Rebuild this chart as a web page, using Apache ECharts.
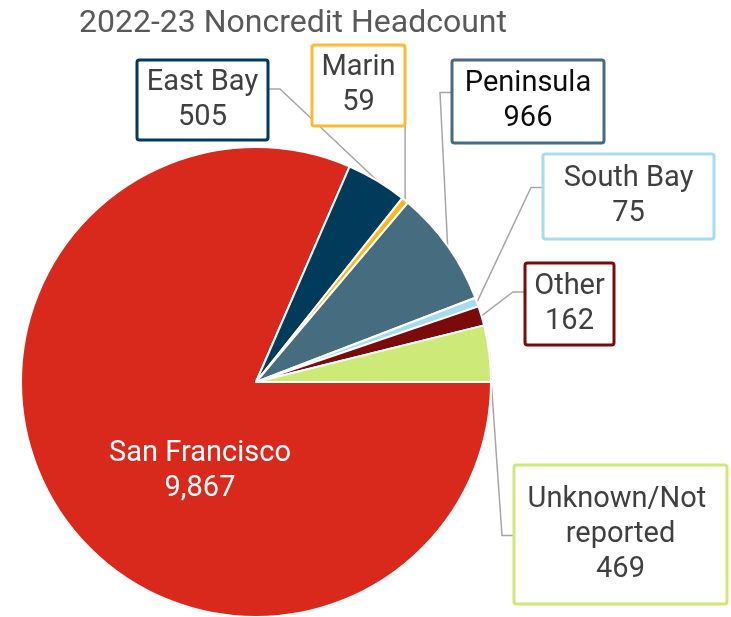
<!DOCTYPE html>
<html>
<head>
<meta charset="utf-8">
<script src="https://cdn.jsdelivr.net/npm/echarts@6/dist/echarts.min.js"></script>
<style>
  html, body { margin: 0; padding: 0; background: #fff; }
  #chart { width: 731px; height: 617px; }
</style>
</head>
<body>
<div id="chart"></div>
<script>
const chartTitle = '2022-23 Noncredit Headcount';
const regions = ['San Francisco', 'East Bay', 'Marin', 'Peninsula', 'South Bay', 'Other', 'Unknown/Not reported'];
const headcounts = [9867, 505, 59, 966, 75, 162, 469];
const sliceColors = ['#d9291c', '#003b5c', '#ffb71b', '#466c7f', '#a7dcee', '#7b0a0a', '#cdea78'];
const boxColors = [null, '#003b5c', '#fbb934', '#466c7f', '#a7dcee', '#7b0a0a', '#cdea78'];
const textColors = ['#ffffff', '#404040', '#404040', '#0d0d0d', '#404040', '#404040', '#404040'];

// Callout boxes: left/top/outer size, text line count, and where the leader line attaches.
const boxes = [
  { cx: 200, cy: 471 },
  { x: 137, y: 60,  w: 131, h: 80,  lines: 2, side: 'right', dy: -11 },
  { x: 312, y: 45,  w: 93,  h: 81,  lines: 2, side: 'corner' },
  { x: 452, y: 60,  w: 152, h: 83,  lines: 2, side: 'left', dy: -9 },
  { x: 543, y: 154, w: 171, h: 85,  lines: 2, side: 'left', dy: -9 },
  { x: 525, y: 263, w: 89,  h: 82,  lines: 2, side: 'left', dy: -12 },
  { x: 514, y: 465, w: 213, h: 139, lines: 3, side: 'left', dy: 1 }
];
const LINE_H = 35;
const BORDER = 3;
const TEXT_SHIFT = 3.5;

const chart = echarts.init(document.getElementById('chart'), null, { renderer: 'canvas' });

function labelFor(i) {
  if (i === 0) {
    return {
      position: 'inside', color: textColors[i], fontSize: 29, lineHeight: 35,
      backgroundColor: 'transparent', borderWidth: 0
    };
  }
  const b = boxes[i];
  const pv = Math.max(0, (b.h - BORDER - b.lines * LINE_H) / 2);
  return {
    color: textColors[i],
    borderColor: boxColors[i],
    width: b.w - BORDER,
    padding: [pv + TEXT_SHIFT, 0, Math.max(0, pv - TEXT_SHIFT), 0]
  };
}

const seriesData = regions.map((name, i) => ({
  name: name,
  value: headcounts[i],
  itemStyle: { color: sliceColors[i] },
  label: labelFor(i),
  labelLine: { show: i !== 0 }
}));

chart.setOption({
  animation: false,
  title: {
    text: chartTitle,
    left: 74,
    top: 3,
    textStyle: { fontFamily: 'Roboto', fontSize: 32, fontWeight: 'normal', color: '#595959' }
  },
  series: [{
    type: 'pie',
    center: [256, 382],
    radius: 235,
    startAngle: 0,
    clockwise: true,
    avoidLabelOverlap: false,
    silent: true,
    itemStyle: { borderColor: '#ffffff', borderWidth: 2 },
    label: {
      show: true,
      position: 'outside',
      formatter: p => p.name + '\n' + p.value.toLocaleString('en-US'),
      fontFamily: 'Roboto',
      fontSize: 29,
      lineHeight: LINE_H,
      color: '#404040',
      backgroundColor: '#ffffff',
      borderWidth: BORDER,
      borderRadius: 1,
      align: 'center',
      overflow: 'break'
    },
    labelLine: {
      show: true,
      length: 10,
      length2: 12,
      lineStyle: { color: '#a6a6a6', width: 1.5 }
    },
    labelLayout: function (p) {
      const b = boxes[p.dataIndex];
      if (p.dataIndex === 0) {
        return { x: b.cx, y: b.cy, align: 'center', verticalAlign: 'middle' };
      }
      const cx = b.x + b.w / 2;
      const cy = b.y + b.h / 2;
      const out = { x: cx, y: cy, align: 'center', verticalAlign: 'middle' };
      if (p.labelLinePoints && p.labelLinePoints.length) {
        const a = p.labelLinePoints[0];
        let end, elbow;
        if (b.side === 'corner') {
          end = [a[0], b.y + b.h];
          elbow = end.slice();
        } else if (b.side === 'right') {
          end = [b.x + b.w, cy + b.dy];
          elbow = [end[0] + 12, end[1]];
        } else {
          end = [b.x, cy + b.dy];
          elbow = [end[0] - 12, end[1]];
        }
        out.labelLinePoints = [a.slice(), elbow, end];
      }
      return out;
    },
    data: seriesData
  }]
});
</script>
</body>
</html>
